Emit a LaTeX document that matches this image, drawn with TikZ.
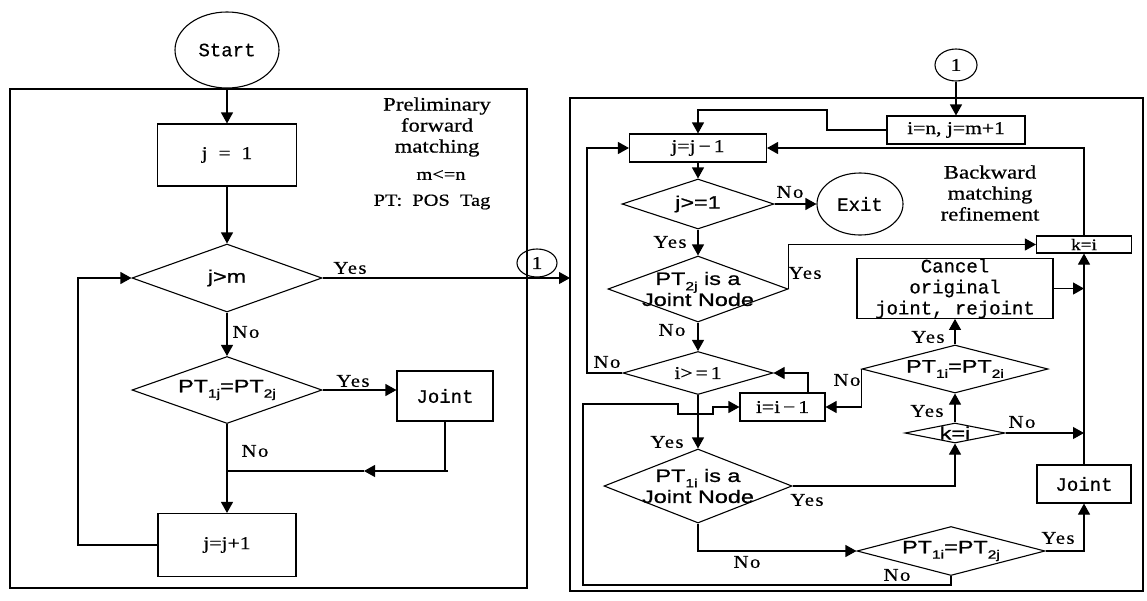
\documentclass[tikz,border=0pt]{standalone}
\usepackage{fontspec}
\setmainfont{Liberation Serif}
\newfontfamily\tms[FakeStretch=1.2,FakeBold=0.6]{Liberation Serif}
\newfontfamily\ynf[FakeStretch=1.15,LetterSpace=8,FakeBold=0.5]{Liberation Serif}
\newfontfamily\arl[FakeStretch=1.3,FakeBold=1]{Liberation Sans}
\newfontfamily\mno[FakeBold=0.6]{Liberation Mono}
\usetikzlibrary{shapes.geometric,arrows.meta}
% lowered small index inside a formula-like label
\newcommand\sbs[1]{\raisebox{-0.3em}{\fontsize{12}{12}\selectfont #1}}

\begin{document}
\begin{tikzpicture}[x=1pt,y=-1pt,line width=1.1pt,
  >={Triangle[length=11pt,width=12pt]},
  tfont/.style={font=\tms\fontsize{18}{21}\selectfont},
  mfont/.style={font=\mno\fontsize{19}{21}\selectfont},
  sfont/.style={font=\arl\fontsize{18}{21}\selectfont, align=center},
  box/.style={draw, rectangle, inner sep=0pt, tfont},
  dia/.style={draw, diamond, inner sep=0pt},
  oval/.style={draw, ellipse, inner sep=0pt},
  yn/.style={font=\ynf\fontsize{18}{20}\selectfont, inner sep=0pt},
  head/.style={font=\tms\fontsize{19}{21}\selectfont, align=center, inner sep=0pt},
  note/.style={font=\tms\fontsize{17}{20}\selectfont, inner sep=0pt}]
\useasboundingbox (0,0) rectangle (1147,600);

% ---------- panel frames ----------
\draw (10,89) rectangle (527,588);
\draw (570,98) rectangle (1143,591);

% ---------- forward matching ----------
\node[oval, mfont, minimum width=104pt, minimum height=76pt] (start) at (227,50) {Start};
\node[box, minimum width=139pt, minimum height=62pt] (j1) at (227,155) {j\ \ =\ \ 1};
\node[dia, minimum width=190pt, minimum height=68pt,
      label={[sfont]center:j>m}] (jm) at (227,278) {};
\node[dia, minimum width=190pt, minimum height=67pt,
      label={[sfont]center:PT\sbs{1j}=PT\sbs{2j}}] (eqj) at (227,390) {};
\node[box, mfont, minimum width=96pt, minimum height=50pt] (jointL) at (445,396) {Joint};
\node[box, minimum width=138pt, minimum height=63pt] (jinc) at (227,545) {j=j+1};
\node[oval, tfont, minimum width=40pt, minimum height=28pt] (cL) at (537,263) {1};

\node[head] (hdL) at (437,127) {Preliminary\\forward\\matching};
\node[note] (mn) at (441,175) {m<=n};
\node[note] (pos) at (432,202) {PT:\ \ POS\ \ Tag};

\node[yn] (yL1) at (350,268) {Yes};
\node[yn] (nL1) at (246,332) {No};
\node[yn] (yL2) at (353,381) {Yes};
\node[yn] (nL2) at (255,451) {No};

\coordinate (lp) at (78,0);
\coordinate (rpL) at (570,0);
\coordinate (jrB) at (448,471);
\coordinate (jrM) at (364,471);
\coordinate (jrC) at (227,471);

\draw[->] (start.south) -- (j1.north);
\draw[->] (j1.south) -- (jm.north);
\draw[->] (jm.south) -- (eqj.north);
\draw[->] (eqj.east) -- (eqj.east -| jointL.west);
\draw (jointL.south) -- (jointL.south |- jrB);
\draw[->] (jrB) -- (jrM);
\draw (jrM) -- (jrC);
\draw[->] (eqj.south) -- (jinc.north);
\draw[->] (jinc.west) -- (jinc.west -| lp) -- (jm.west -| lp) -- (jm.west);
\draw[->] (jm.east) -- (jm.east -| rpL);

% ---------- backward matching ----------
\node[oval, tfont, minimum width=42pt, minimum height=32pt] (cR) at (956,65) {1};
\node[box, minimum width=138pt, minimum height=28pt] (init) at (956,130) {i=n,\ j=m+1};
\node[box, minimum width=137pt, minimum height=28pt] (jdec) at (698,148) {j=j\,−\,1};
\node[dia, minimum width=152pt, minimum height=50pt,
      label={[sfont]center:j>=1}] (jge) at (698,204) {};
\node[oval, mfont, minimum width=86pt, minimum height=62pt] (exit) at (860,204) {Exit};
\node[dia, minimum width=180pt, minimum height=66pt,
      label={[sfont]center:PT\sbs{2j} is a\\Joint Node}] (pt2j) at (698,289) {};
\node[box, minimum width=95pt, minimum height=17pt, font=\tms\fontsize{16}{16}\selectfont] (ki) at (1084,244.5) {k=i};
\node[box, mfont, align=center, minimum width=196pt, minimum height=59pt] (cancel) at (955,288.5) {Cancel\\original\\joint, rejoint};
\node[dia, minimum width=150pt, minimum height=43pt,
      label={[tfont]center:i>\,=\,1}] (ige) at (698,373) {};
\node[box, minimum width=85pt, minimum height=28pt] (idec) at (782.5,407) {i=i\,−\,1};
\node[dia, minimum width=186pt, minimum height=48pt,
      label={[sfont]center:PT\sbs{1i}=PT\sbs{2i}}] (eqA) at (955,369) {};
\node[dia, minimum width=100pt, minimum height=20pt,
      label={[sfont]center:k=i}] (kid) at (955,433) {};
\node[dia, minimum width=188pt, minimum height=74pt,
      label={[sfont]center:PT\sbs{1i} is a\\Joint Node}] (pt1i) at (698,486) {};
\node[box, mfont, minimum width=94pt, minimum height=38pt] (jointR) at (1084,484) {Joint};
\node[dia, minimum width=188pt, minimum height=49pt,
      label={[sfont]center:PT\sbs{1i}=PT\sbs{2j}}] (eqB) at (951,551) {};

\node[head] (hdR) at (990,193) {Backward\\matching\\refinement};

\node[yn] (nR1) at (790,192) {No};
\node[yn] (yR1) at (670,242) {Yes};
\node[yn] (yR2) at (805,273) {Yes};
\node[yn] (nR2) at (672,330) {No};
\node[yn] (nR3) at (607,362) {No};
\node[yn] (nR4) at (847,380) {No};
\node[yn] (yR3) at (928,337) {Yes};
\node[yn] (yR4) at (927,411) {Yes};
\node[yn] (nR5) at (1022,422) {No};
\node[yn] (yR5) at (667,442) {Yes};
\node[yn] (yR6) at (807,500) {Yes};
\node[yn] (nR6) at (747,562) {No};
\node[yn] (yR7) at (1058,538) {Yes};
\node[yn] (nR7) at (897,575) {No};

\coordinate (t1) at (827,110);
\coordinate (t3) at (587,0);
\coordinate (t4) at (808,0);
\coordinate (vx) at (1084,0);
\coordinate (b1) at (583,585);
\coordinate (b2) at (583,404);

\draw[->] (cR.south) -- (init.north);
\draw[->] (init.west) -- (init.west -| t1) -- (t1) -- (t1 -| jdec.north) -- (jdec.north);
\draw[->] (jdec.south) -- (jge.north);
\draw[->] (jge.east) -- (exit.west);
\draw[->] (jge.south) -- (pt2j.north);
\draw[->] (pt2j.east) |- (ki.west);
\draw[->] (pt2j.south) -- (ige.north);
\draw[->] (ige.west) -- (ige.west -| t3) -- (jdec.west -| t3) -- (jdec.west);
\draw[->] (idec.north -| t4) |- (ige.east);
\draw[->] (eqA.west) |- (idec.east);
\draw[->] (eqA.north) -- (cancel.south);
\draw[->] (cancel.east) -- (cancel.east -| vx);
\draw[->] (jointR.north) -- (ki.south);
\draw[->] (ki.north) |- (jdec.east);
\draw[->] (kid.north) -- (eqA.south);
\draw[->] (kid.east) -- (kid.east -| vx);
\draw[->] (pt1i.east) -| (kid.south);
\draw[->] (ige.south) -- (pt1i.north);
\draw[->] (pt1i.south) |- (eqB.west);
\draw[->] (eqB.east) -| (jointR.south);
\draw[->] (eqB.south) |- (b1) -- (b2) -- ++(95,0) -- ++(0,10) -- ++(35,0) |- (idec.west);
\end{tikzpicture}
\end{document}
